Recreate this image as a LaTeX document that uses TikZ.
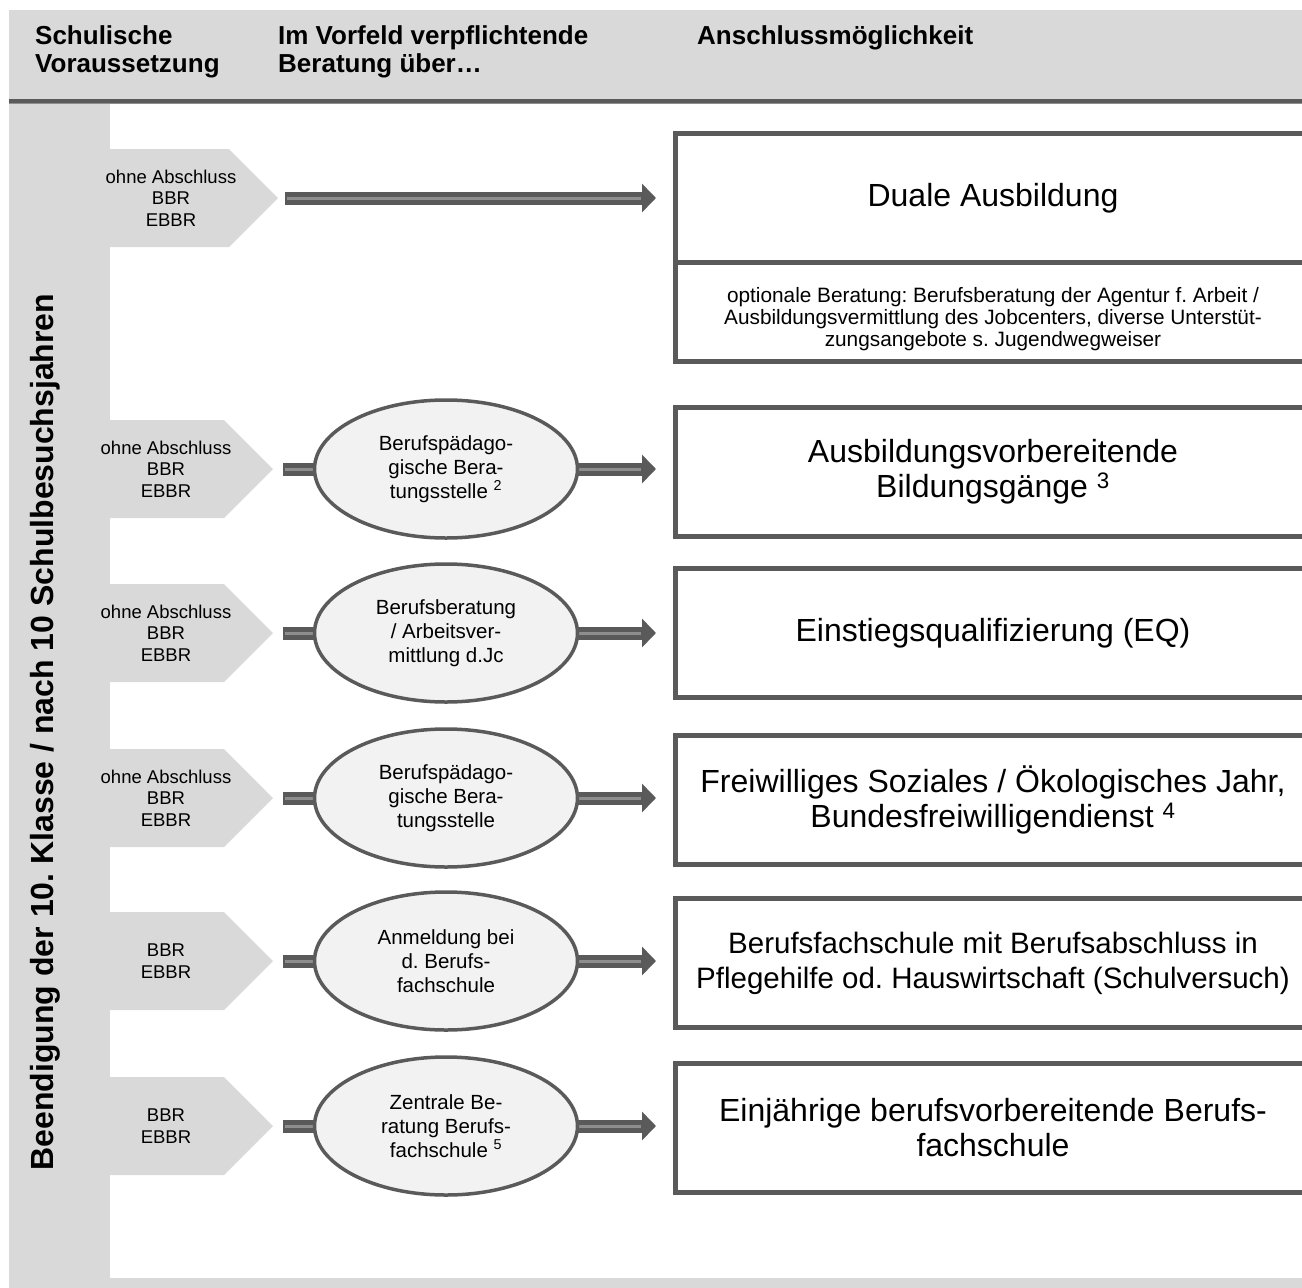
\documentclass[tikz,border=0pt]{standalone}
\usepackage{fontspec}
\setmainfont{Liberation Sans}
\usetikzlibrary{arrows.meta,shapes.geometric}
\definecolor{bgg}{HTML}{D9D9D9}
\definecolor{dk}{HTML}{5A5A5A}
\definecolor{stc}{HTML}{8E8E8E}
\definecolor{ellf}{HTML}{F2F2F2}
\pgfdeclarelayer{bg}
\pgfsetlayers{bg,main}
\frenchspacing
\begin{document}
\begin{tikzpicture}[x=1pt,y=-1pt,
  hdr/.style={font=\fontsize{26}{28}\selectfont\bfseries, anchor=north west, align=left, inner sep=0},
  rottext/.style={font=\fontsize{32}{34}\selectfont\bfseries, rotate=90, inner sep=0},
  chevtext/.style={font=\fontsize{18.5}{21.5}\selectfont, align=center, inner sep=0},
  ellnode/.style={ellipse, draw=dk, line width=3.5pt, fill=ellf, minimum width=263pt, minimum height=138pt, inner sep=0, font=\fontsize{20.5}{24}\selectfont, align=center},
  bigbox/.style={draw=dk, line width=5pt, fill=white, minimum width=635pt, minimum height=129pt, inner sep=0, font=\fontsize{32}{35}\selectfont, align=center},
  subbox/.style={draw=dk, line width=5pt, fill=white, minimum width=635pt, minimum height=99pt, inner sep=0},
  subtext/.style={font=\fontsize{20.8}{22}\selectfont, align=center, inner sep=0},
  shaft/.style={draw=dk, line width=13pt},
  stripe/.style={draw=stc, line width=3pt},
  arr/.style={shaft, -{Triangle[length=14pt,width=28pt]}},
  chev/.style={fill=bgg}
]
\useasboundingbox (0,0) rectangle (1302,1288);
\clip (0,0) rectangle (1302,1288);

% background frame
\begin{pgfonlayer}{bg}
\fill[bgg] (9,10) rectangle (1302,99);
\fill[bgg] (9,99) rectangle (110,1288);
\fill[bgg] (9,1278) rectangle (1302,1288);
\draw[dk, line width=4pt] (9,101) -- (1302,101);
\draw[stc, line width=1pt] (9,103.5) -- (1302,103.5);
% chevrons
\fill[chev] (105,149) -- (229,149) -- (278,198) -- (229,247) -- (105,247) -- cycle;
\foreach \yy in {469,633,798,961,1126}{
  \fill[chev] (105,\yy-49) -- (224,\yy-49) -- (273,\yy) -- (224,\yy+49) -- (105,\yy+49) -- cycle;
}
\end{pgfonlayer}

% header
\node[hdr] (h1) at (35,25) {Schulische\\Voraussetzung};
\node[hdr] (h2) at (278,25) {Im Vorfeld verpflichtende\\Beratung über…};
\node[hdr] (h3) at (697,25) {Anschlussmöglichkeit};

% rotated label
\node[rottext] (side) at (45,732) {Beendigung der 10. Klasse / nach 10 Schulbesuchsjahren};

% chevron texts and tips
\node[chevtext] (c1) at (171,198) {ohne Abschluss\\BBR\\EBBR};
\node[chevtext] (c2) at (166,469) {ohne Abschluss\\BBR\\EBBR};
\node[chevtext] (c3) at (166,633) {ohne Abschluss\\BBR\\EBBR};
\node[chevtext] (c4) at (166,798) {ohne Abschluss\\BBR\\EBBR};
\node[chevtext] (c5) at (166,961) {BBR\\EBBR};
\node[chevtext] (c6) at (166,1126) {BBR\\EBBR};
\coordinate (tip1) at (278,198);
\coordinate (tip2) at (273,469);
\coordinate (tip3) at (273,633);
\coordinate (tip4) at (273,798);
\coordinate (tip5) at (273,961);
\coordinate (tip6) at (273,1126);

% ellipses
\node[ellnode] (e2) at (446,469) {Berufspädago-\\gische Bera-\\tungsstelle \textsuperscript{2}};
\node[ellnode] (e3) at (446,633) {Berufsberatung\\/ Arbeitsver-\\mittlung d.Jc};
\node[ellnode] (e4) at (446,798) {Berufspädago-\\gische Bera-\\tungsstelle};
\node[ellnode] (e5) at (446,961) {Anmeldung bei\\d. Berufs-\\fachschule};
\node[ellnode] (e6) at (446,1126) {Zentrale Be-\\ratung Berufs-\\fachschule \textsuperscript{5}};

% boxes
\node[bigbox] (b1) at (993,198) {Duale Ausbildung};
\node[subbox] (s1) at (993,312) {};
\node[subtext] (s1t) at (993,319) {optionale Beratung: Berufsberatung der Agentur f. Arbeit /\\Ausbildungsvermittlung des Jobcenters, diverse Unterstüt-\\zungsangebote s. Jugendwegweiser};
\node[bigbox] (b2) at (993,472) {Ausbildungsvorbereitende\\Bildungsgänge \textsuperscript{3}};
\node[bigbox] (b3) at (993,633) {Einstiegsqualifizierung (EQ)};
\node[bigbox] (b4) at (993,800) {Freiwilliges Soziales / Ökologisches Jahr,\\Bundesfreiwilligendienst \textsuperscript{4}};
\node[bigbox, font=\fontsize{29.5}{35}\selectfont] (b5) at (993,963) {Berufsfachschule mit Berufsabschluss in\\Pflegehilfe od. Hauswirtschaft (Schulversuch)};
\node[bigbox] (b6) at (993,1128) {Einjährige berufsvorbereitende Berufs-\\fachschule};

% connectors
\begin{pgfonlayer}{bg}
\draw[arr] ([xshift=7pt]tip1) -- ([xshift=-17pt]b1.west);
\draw[stripe] ([xshift=9pt]tip1) -- ([xshift=-32pt]b1.west);
\foreach \i in {2,...,6}{
  \draw[shaft] ([xshift=10pt]tip\i) -- ([xshift=12pt]e\i.west);
  \draw[stripe] ([xshift=12pt]tip\i) -- ([xshift=12pt]e\i.west);
  \draw[arr] ([xshift=-12pt]e\i.east) -- ([xshift=-17pt]b\i.west |- e\i.east);
  \draw[stripe] ([xshift=-12pt]e\i.east) -- ([xshift=-32pt]b\i.west |- e\i.east);
}
\end{pgfonlayer}
\end{tikzpicture}
\end{document}
